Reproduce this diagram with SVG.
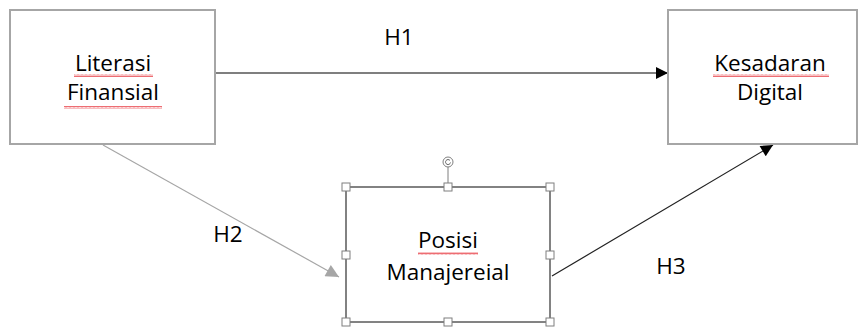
<svg xmlns="http://www.w3.org/2000/svg" width="859" height="327" viewBox="0 0 859 327">
<style>
.box{fill:#fff;stroke:#a6a6a6;stroke-width:2}
.sel{fill:#fff;stroke:#5a5a5a;stroke-width:1.5}
.h{fill:#fff;stroke:#7f7f7f;stroke-width:1}
.t{font-family:"Open Sans","Liberation Sans",sans-serif;font-size:22.5px;fill:#000;text-anchor:middle}
</style>
<defs>
<marker id="ab" viewBox="0 0 10 10" refX="10" refY="5" markerWidth="13" markerHeight="12" markerUnits="userSpaceOnUse" orient="auto"><path d="M0,0L10,5L0,10z" fill="#000"/></marker>
<marker id="ag" viewBox="0 0 10 10" refX="10" refY="5" markerWidth="14" markerHeight="13" markerUnits="userSpaceOnUse" orient="auto"><path d="M0,0L10,5L0,10z" fill="#a6a6a6"/></marker>
<pattern id="wv" width="4" height="3" patternUnits="userSpaceOnUse"><path d="M0,2.5L1,0.5L2,2.5L3,0.5L4,2.5" fill="none" stroke="#e8474f" stroke-width="0.8"/></pattern>
</defs>
<g id="connectors">
<line x1="216" y1="73" x2="668" y2="73" stroke="#000" stroke-width="1.2" marker-end="url(#ab)"/>
<line x1="103" y1="145" x2="339" y2="277" stroke="#a6a6a6" stroke-width="1.2" marker-end="url(#ag)"/>
<line x1="552" y1="276" x2="773" y2="145" stroke="#222" stroke-width="1.2" marker-end="url(#ab)"/>
<text class="t" x="399" y="45">H1</text>
<text class="t" x="228" y="242">H2</text>
<text class="t" x="671" y="274">H3</text>
</g>
<g id="literasi">
<rect class="box" x="10" y="10" width="205" height="134"/>
<text class="t" x="113" y="71">Literasi</text>
<text class="t" x="113" y="100">Finansial</text>
<rect x="74" y="74" width="79" height="3" fill="url(#wv)"/>
<rect x="64" y="106" width="98" height="3" fill="url(#wv)"/>
</g>
<g id="kesadaran">
<rect class="box" x="668" y="10" width="189" height="134"/>
<text class="t" x="770" y="71">Kesadaran</text>
<text class="t" x="770" y="100">Digital</text>
<rect x="713" y="74" width="116" height="3" fill="url(#wv)"/>
</g>
<g id="posisi">
<rect class="sel" x="346" y="187" width="204" height="135"/>
<text class="t" x="448" y="248">Posisi</text>
<text class="t" x="448" y="280">Manajereial</text>
<rect x="418" y="252" width="60" height="3" fill="url(#wv)"/>
<line x1="448" y1="167" x2="448" y2="187" stroke="#7f7f7f" stroke-width="1"/>
<circle cx="448" cy="162" r="5" fill="#fff" stroke="#7f7f7f"/>
<path d="M450,160.5a2.5,2.5 0 1 0 0.5,2" fill="none" stroke="#555" stroke-width="0.9"/>
<rect class="h" x="342" y="183" width="8" height="8"/>
<rect class="h" x="444" y="183" width="8" height="8"/>
<rect class="h" x="546" y="183" width="8" height="8"/>
<rect class="h" x="342" y="251" width="8" height="8"/>
<rect class="h" x="546" y="251" width="8" height="8"/>
<rect class="h" x="342" y="318" width="8" height="8"/>
<rect class="h" x="444" y="318" width="8" height="8"/>
<rect class="h" x="546" y="318" width="8" height="8"/>
</g>
</svg>
